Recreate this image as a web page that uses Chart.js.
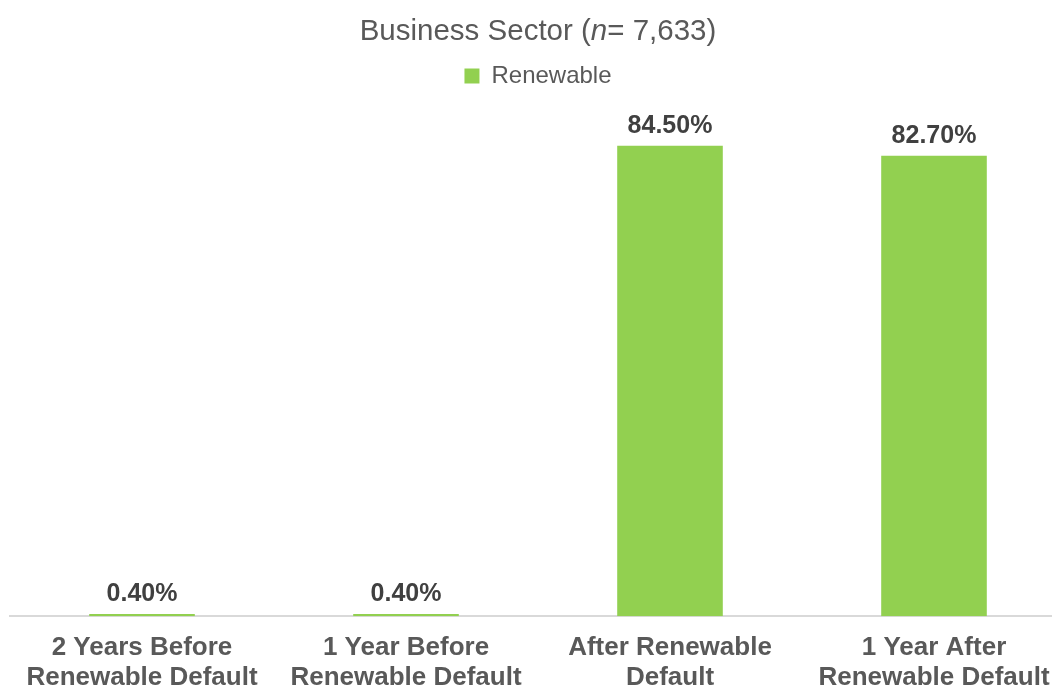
<!DOCTYPE html>
<html>
<head>
<meta charset="utf-8">
<script src="https://cdn.jsdelivr.net/npm/chart.js@4"></script>
<style>
  html, body { margin: 0; padding: 0; background: #ffffff; overflow: hidden; width: 1052px; height: 689px; }
  #wrap { position: absolute; left: 0; top: 0; width: 1076px; height: 702px; }
  #title { position: absolute; left: 0; top: 12px; width: 1076px; text-align: center;
           font-family: "Liberation Sans", Arial, sans-serif; font-size: 29.5px; line-height: 36px; color: #595959; }
</style>
</head>
<body>
<div id="wrap">
  <canvas id="c" width="1076" height="702"></canvas>
  <div id="title">Business Sector (<i>n</i>= 7,633)</div>
</div>
<script>
const categories = [
  ["2 Years Before", "Renewable Default"],
  ["1 Year Before", "Renewable Default"],
  ["After Renewable", "Default"],
  ["1 Year After", "Renewable Default"]
];
const seriesName = "Renewable";
const renewableValues = [0.4, 0.4, 84.5, 82.7];

const dataLabelPlugin = {
  id: 'dataLabels',
  afterDatasetsDraw(chart) {
    const ctx = chart.ctx;
    const meta = chart.getDatasetMeta(0);
    ctx.save();
    ctx.font = 'bold 25px "Liberation Sans", Arial, sans-serif';
    ctx.fillStyle = '#404040';
    ctx.textAlign = 'center';
    ctx.textBaseline = 'bottom';
    meta.data.forEach((el, i) => {
      const v = chart.data.datasets[0].data[i];
      ctx.fillText(v.toFixed(2) + '%', el.x, el.y - 7);
    });
    ctx.restore();
  }
};

const legendSpacer = {
  id: 'legendSpacer',
  beforeInit(chart) {
    const origFit = chart.legend.fit;
    chart.legend.fit = function () {
      origFit.bind(chart.legend)();
      this.height += 17;
    };
  }
};

new Chart(document.getElementById('c'), {
  type: 'bar',
  data: {
    labels: categories,
    datasets: [{
      label: seriesName,
      data: renewableValues,
      backgroundColor: '#92D050',
      borderWidth: 0,
      categoryPercentage: 1.0,
      barPercentage: 0.4
    }]
  },
  options: {
    responsive: false,
    animation: false,
    layout: { padding: { top: 56, left: 10, right: 10, bottom: 0 } },
    plugins: {
      title: { display: false },
      tooltip: { enabled: false },
      legend: {
        display: true,
        position: 'top',
        labels: {
          font: { family: '"Liberation Sans", Arial, sans-serif', size: 24 },
          color: '#595959',
          boxWidth: 15,
          boxHeight: 15,
          padding: 8
        }
      }
    },
    scales: {
      x: {
        grid: { display: false },
        border: { display: true, color: '#d9d9d9', width: 2 },
        ticks: {
          color: '#595959',
          font: { family: '"Liberation Sans", Arial, sans-serif', size: 26, weight: 'bold', lineHeight: 1.15 },
          padding: 9,
          maxRotation: 0,
          autoSkip: false
        }
      },
      y: {
        display: false,
        min: 0,
        max: 90
      }
    }
  },
  plugins: [dataLabelPlugin, legendSpacer]
});
</script>
</body>
</html>
